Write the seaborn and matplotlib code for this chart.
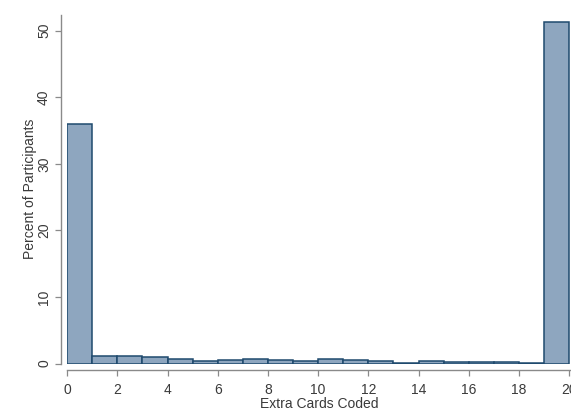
import matplotlib
matplotlib.use("Agg")
import matplotlib.pyplot as plt
import seaborn as sns
import numpy as np

# Data: bins of width 1 from 0 to 20
bin_starts = list(range(20))
percents = [36.0, 1.15, 1.2, 1.0, 0.75, 0.4, 0.6, 0.75, 0.55, 0.35,
            0.75, 0.5, 0.35, 0.1, 0.35, 0.3, 0.25, 0.25, 0.05, 51.3]
bin_edges = list(range(21))
x_ticks = [0, 2, 4, 6, 8, 10, 12, 14, 16, 18, 20]
y_ticks = [0, 10, 20, 30, 40, 50]

sns.set_style("white")
plt.rcParams['font.family'] = ['Liberation Sans', 'DejaVu Sans']

fig = plt.figure(figsize=(5.71, 4.11), dpi=100)
ax = fig.add_axes([0.1175, 0.1155, 0.8825, 0.848])

sns.histplot(x=bin_starts, weights=percents, bins=bin_edges, ax=ax,
             color="#8ea6bf", edgecolor="#1f4a6e", linewidth=1.1, alpha=1.0)

ax.set_xlim(0, 20.07)
ax.set_ylim(0, 52.36)
ax.set_xticks(x_ticks)
ax.set_xticklabels([str(v) for v in x_ticks])
ax.set_yticks(y_ticks)
ax.set_yticklabels([str(v) for v in y_ticks])

for s in ['top', 'right']:
    ax.spines[s].set_visible(False)
ax.spines['left'].set_position(('outward', 4.5))
ax.spines['bottom'].set_position(('outward', 5))
for s in ['left', 'bottom']:
    ax.spines[s].set_color('#8a8a8a')
    ax.spines[s].set_linewidth(1.0)

ax.tick_params(axis='both', which='major', direction='out', length=4,
               width=0.9, color='#8a8a8a', labelsize=10, labelcolor='#3a3a3a',
               bottom=True, left=True)
ax.tick_params(axis='x', pad=5)
ax.tick_params(axis='y', labelrotation=90, pad=3)
for lbl in ax.get_yticklabels():
    lbl.set_verticalalignment('center')

ax.set_xlabel("Extra Cards Coded", fontsize=10, color='#3a3a3a', labelpad=0)
ax.set_ylabel("Percent of Participants", fontsize=10, color='#3a3a3a')
ax.yaxis.set_label_coords(-0.060, 0.5)

fig.savefig("out.png", dpi=100)
